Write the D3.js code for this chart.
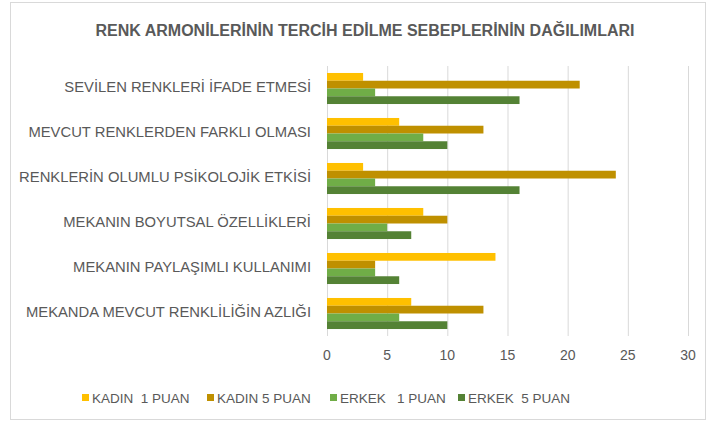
<!DOCTYPE html>
<html>
<head>
<meta charset="utf-8">
<script src="https://cdn.jsdelivr.net/npm/d3@7"></script>
<style>
  body { margin: 0; background: #fff; }
  text { font-family: "Liberation Sans", Arial, sans-serif; fill: #595959; }
</style>
</head>
<body>
<div id="chart"></div>
<script>
// chart data
const categories = [
  "SEVİLEN RENKLERİ İFADE ETMESİ",
  "MEVCUT RENKLERDEN FARKLI OLMASI",
  "RENKLERİN OLUMLU PSİKOLOJİK ETKİSİ",
  "MEKANIN BOYUTSAL ÖZELLİKLERİ",
  "MEKANIN PAYLAŞIMLI KULLANIMI",
  "MEKANDA MEVCUT RENKLİLİĞİN AZLIĞI"
];
const seriesNames = ["KADIN  1 PUAN", "KADIN 5 PUAN", "ERKEK   1 PUAN", "ERKEK  5 PUAN"];
const kadin1 = [3, 6, 3, 8, 14, 7];
const kadin5 = [21, 13, 24, 10, 4, 13];
const erkek1 = [4, 8, 4, 5, 4, 6];
const erkek5 = [16, 10, 16, 7, 6, 10];
const xTicks = [0, 5, 10, 15, 20, 25, 30];
const colors = ["#FFC000", "#BF9000", "#70AD47", "#548235"];

const series = [kadin1, kadin5, erkek1, erkek5];
const width = 709, height = 423;
const margin = { top: 66, right: 21, bottom: 87, left: 327 };

const svg = d3.select("#chart").append("svg")
  .attr("width", width).attr("height", height);

svg.append("rect")
  .attr("x", 10.5).attr("y", 2.5)
  .attr("width", 695).attr("height", 417)
  .attr("fill", "#fff").attr("stroke", "#d9d9d9");

svg.append("text")
  .attr("x", 365).attr("y", 36)
  .attr("text-anchor", "middle")
  .style("font-size", "16px").style("font-weight", "bold")
  .text("RENK ARMONİLERİNİN TERCİH EDİLME SEBEPLERİNİN DAĞILIMLARI");

const x = d3.scaleLinear().domain([0, 30]).range([margin.left, width - margin.right]);
const y = d3.scaleBand().domain(categories)
  .range([margin.top, height - margin.bottom]).paddingInner(0.31).paddingOuter(0.155);
const ySub = d3.scaleBand().domain(d3.range(4)).range([0, y.bandwidth()]);

// gridlines
svg.append("g").selectAll("line").data(xTicks).join("line")
  .attr("x1", d => x(d) + 0.5).attr("x2", d => x(d) + 0.5)
  .attr("y1", margin.top).attr("y2", height - margin.bottom)
  .attr("stroke", "#d9d9d9").attr("stroke-width", 1);

const rows = svg.append("g").selectAll("g").data(categories).join("g")
  .attr("transform", c => `translate(0,${y(c)})`);

rows.selectAll("rect")
  .data((c, i) => series.map((s, k) => ({ k, v: s[i] })))
  .join("rect")
  .attr("x", x(0))
  .attr("y", d => ySub(d.k))
  .attr("width", d => x(d.v) - x(0))
  .attr("height", ySub.bandwidth())
  .attr("fill", d => colors[d.k]);

// category labels
svg.append("g").selectAll("text").data(categories).join("text")
  .attr("x", 311)
  .attr("y", c => y(c) + y.bandwidth() / 2 - 1.5)
  .attr("text-anchor", "end")
  .attr("dy", "0.35em")
  .style("font-size", "14.8px")
  .text(c => c);

// x tick labels
svg.append("g").selectAll("text").data(xTicks).join("text")
  .attr("x", d => x(d))
  .attr("y", 360)
  .attr("text-anchor", "middle")
  .style("font-size", "14px")
  .text(d => d);

// legend
const legendX = [82, 207, 330, 458];
const legend = svg.append("g").selectAll("g").data(seriesNames).join("g")
  .attr("transform", (d, i) => `translate(${legendX[i]},398)`);
legend.append("rect")
  .attr("x", 0).attr("y", -4).attr("width", 7).attr("height", 7)
  .attr("fill", (d, i) => colors[i]);
legend.append("text")
  .attr("x", 10).attr("y", 0).attr("dy", "0.35em")
  .style("font-size", "13.5px").style("white-space", "pre")
  .text(d => d);
</script>
</body>
</html>
